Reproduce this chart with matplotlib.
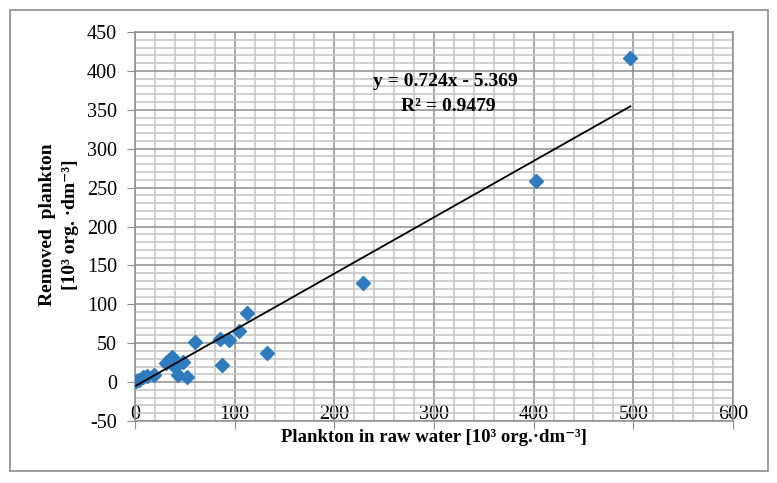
import matplotlib
matplotlib.use('Agg')
import numpy as np
import matplotlib.pyplot as plt
from matplotlib.ticker import MultipleLocator
from matplotlib.patches import Rectangle

# plankton in raw water vs removed plankton [10^3 org./dm3]
raw = [1, 4, 8, 12, 19, 31, 34, 37, 40, 43, 48, 52, 60, 85, 87, 94, 104, 112, 132, 229, 402, 497]
removed = [1, 3, 6, 8, 9, 24, 28, 32, 20, 9, 26, 6, 51, 56, 22, 54, 66, 89, 38, 128, 259, 416]

slope = 0.724
intercept = -5.369
r2 = 0.9479

plt.rcParams['font.family'] = ['Liberation Serif', 'DejaVu Serif']
plt.rcParams['axes.unicode_minus'] = False

W, H = 777, 483
fig = plt.figure(figsize=(W/100, H/100), dpi=100)
ax = fig.add_axes([135/W, 1 - 421/H, 598/W, 389/H])

# outer chart frame
fig.patches.append(Rectangle((10/W, 1 - 471/H), 758/W, 461/H,
                             transform=fig.transFigure, fill=False,
                             edgecolor='#8c8c8c', linewidth=1.2))

ax.plot(raw, removed, 'D', color='#2e7bbf', markersize=7.2, zorder=3)

xt = np.array([min(raw), max(raw)])
ax.plot(xt, slope*xt + intercept, color='black', linewidth=1.3, zorder=4)

fig.text(445/W, 1 - 82/H, 'y = 0.724x - 5.369', ha='center', va='center',
         fontsize=14, fontweight='bold')
fig.text(448/W, 1 - 107/H, 'R² = %.4f' % r2, ha='center', va='center',
         fontsize=14, fontweight='bold')

ax.set_xlim(0, 600)
ax.set_ylim(-50, 450)
ax.xaxis.set_major_locator(MultipleLocator(100))
ax.xaxis.set_minor_locator(MultipleLocator(20))
ax.yaxis.set_major_locator(MultipleLocator(50))
ax.yaxis.set_minor_locator(MultipleLocator(10))

ax.grid(which='minor', color='#c4c4c4', linewidth=1.1)
ax.grid(which='major', color='#8e8e8e', linewidth=1.1)
ax.set_axisbelow(True)

for s in ax.spines.values():
    s.set_color('#8e8e8e')
    s.set_linewidth(1.1)

ax.tick_params(which='major', direction='out', length=6, color='#8e8e8e',
               labelsize=14.5)
ax.tick_params(axis='y', which='major', pad=7)
# x labels sit just inside the plot area, as in the original
ax.tick_params(axis='x', which='major', pad=-17.5)
ax.tick_params(which='minor', length=0)

fig.text(434/W, 1 - 438/H, 'Plankton in raw water [10³ org.·dm⁻³]',
         ha='center', va='center', fontsize=13.5, fontweight='bold')
fig.text(59/W, 1 - 225/H, 'Removed  plankton\n[10³ org. ·dm⁻³]',
         ha='center', va='center', rotation=90, multialignment='center',
         fontsize=14, fontweight='bold', linespacing=1.45)

plt.savefig('out.png', dpi=100)
